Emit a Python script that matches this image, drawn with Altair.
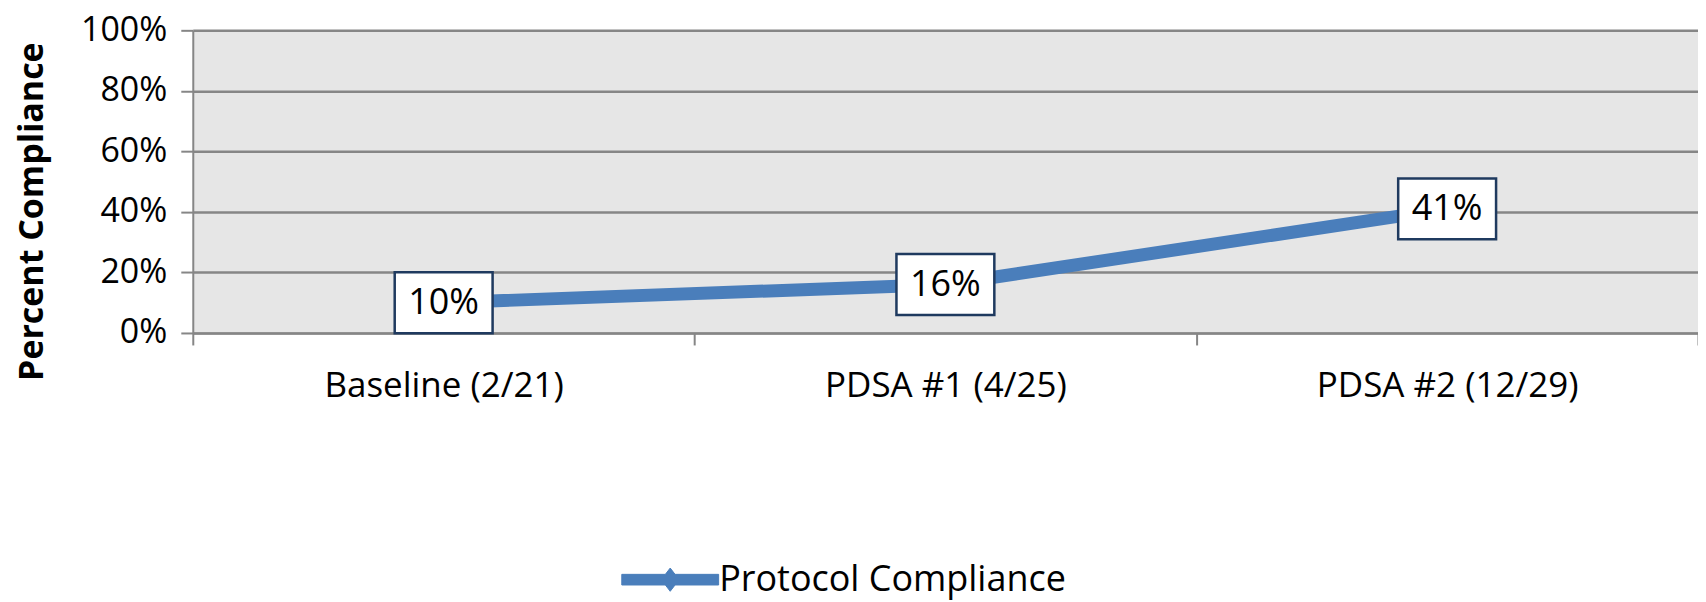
import altair as alt
import pandas as pd

categories = ["Baseline (2/21)", "PDSA #1 (4/25)", "PDSA #2 (12/29)"]
values = [0.10, 0.16, 0.41]
labels = ["10%", "16%", "41%"]
series = "Protocol Compliance"

df = pd.DataFrame({"cat": categories, "val": values, "lab": labels, "series": [series] * 3})

FONT = "Open Sans"
BLUE = "#4a7ebb"
GRID = "#868686"

x = alt.X("cat:N", sort=categories, title=None,
          scale=alt.Scale(paddingInner=0, paddingOuter=0),
          axis=alt.Axis(labelAngle=0, labelFont=FONT, labelFontSize=35, labelColor="#000",
                        labelPadding=24, labelLimit=600, tickBand="extent", tickSize=12,
                        tickColor=GRID, tickWidth=2, domainColor=GRID, domainWidth=2, grid=False))
y = alt.Y("val:Q", title="Percent Compliance",
          scale=alt.Scale(domain=[0, 1]),
          axis=alt.Axis(format=".0%", values=[0, 0.2, 0.4, 0.6, 0.8, 1.0],
                        labelFont=FONT, labelFontSize=34, labelColor="#000", labelPadding=14,
                        tickSize=12, tickColor=GRID, tickWidth=2,
                        domainColor=GRID, domainWidth=2,
                        grid=True, gridColor=GRID, gridWidth=2.5,
                        titleFont=FONT, titleFontSize=34, titleFontWeight="bold", titleColor="#000",
                        titleAngle=-90, titleX=-160, titleY=181,
                        titleAlign="center", titleBaseline="middle"))

legend_path = ("M-1,-0.11 L-0.1,-0.11 L0,-0.24 L0.1,-0.11 L1,-0.11 "
               "L1,0.11 L0.1,0.11 L0,0.24 L-0.1,0.11 L-1,0.11 Z")

line = alt.Chart(df).mark_line(strokeWidth=13, strokeCap="round", strokeJoin="round").encode(
    x=x, y=y,
    color=alt.Color("series:N", scale=alt.Scale(range=[BLUE]), title=None,
                    legend=alt.Legend(orient="none", legendX=429, legendY=501,
                                      symbolType=legend_path, symbolSize=9400,
                                      symbolFillColor=BLUE, symbolStrokeColor=BLUE,
                                      symbolStrokeWidth=1, labelFont=FONT, labelFontSize=36,
                                      labelColor="#000", labelOffset=0, labelLimit=600))
)

boxes = alt.Chart(df).mark_point(
    shape="M-1,-0.622 L1,-0.622 L1,0.622 L-1,0.622 Z", size=9604,
    filled=True, fill="white", stroke="#1f3a5f", strokeWidth=2.5, opacity=1
).encode(x=x, y=y)

texts = alt.Chart(df).mark_text(font=FONT, fontSize=36, color="#000", baseline="middle").encode(
    x=x, y=y, text="lab:N")

chart = alt.layer(line, boxes, texts).properties(
    width=1507, height=303,
    padding={"left": 185, "top": 22, "right": 0, "bottom": 267},
    autosize=alt.AutoSizeParams(type="none"),
    background="white",
).configure_view(fill="#e6e6e6", stroke=None)

chart.save("out.html", embed_options={"renderer": "svg", "actions": False})
